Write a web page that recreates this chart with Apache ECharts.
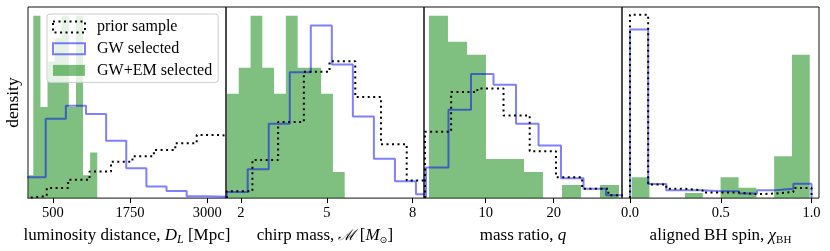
<!DOCTYPE html>
<html><head><meta charset="utf-8">
<script src="https://cdn.jsdelivr.net/npm/echarts@6/dist/echarts.min.js"></script>
<style>html,body{margin:0;padding:0;background:#fff}#c{width:830px;height:251px}</style>
</head><body><div id="c"></div>
<script>
// ---- data (relative density heights) ----
// Panel 1: luminosity distance D_L [Mpc]
const dlTicks = [500, 1750, 3000];
const dlPriorEdges = [54, 401, 748, 1095, 1442, 1789, 2136, 2483, 2830, 3177, 3524];
const dlPrior = [2, 10.3, 18.7, 27.3, 37.3, 43, 49.3, 56.3, 64.7, 63];
const dlGWEdges = [59, 385, 711, 1037, 1363, 1689, 2015, 2341, 2667, 2993, 3319];
const dlGW = [21.3, 81.3, 94.7, 86.3, 58.7, 30.7, 12, 7.3, 2, 1.3];
const dlEMEdges = [69, 184, 299, 414, 529, 644, 759, 874, 989, 1104, 1219];
const dlEM = [23.4, 187, 93.5, 140, 164, 187, 93.5, 187, 23.4, 46.8];

// Panel 2: chirp mass [Msun]
const mcTicks = [2, 5, 8];
const mcPriorEdges = [1.507, 2.405, 3.302, 4.200, 5.097, 5.995, 6.892, 7.790, 8.687];
const mcPrior = [7, 39, 78, 129.5, 140.3, 103.7, 55.3, 18];
const mcGWEdges = [1.507, 2.241, 2.975, 3.709, 4.443, 5.177, 5.911, 6.645, 7.379, 8.113, 8.847];
const mcGW = [6.3, 29.5, 76.3, 129, 177, 137, 83.7, 40.3, 17.3, 4];
const mcEMEdges = [1.518, 1.929, 2.340, 2.750, 3.161, 3.572, 3.983, 4.394, 4.804, 5.215, 5.626];
const mcEM = [106.9, 133.6, 187, 133.6, 106.9, 187, 133.6, 133.6, 106.9, 26.7];

// Panel 3: mass ratio q
const qTicks = [10, 20];
const qPriorEdges = [1.07, 4.92, 8.77, 12.62, 16.47, 20.33, 24.18, 28.03, 31.88];
const qPrior = [68, 108.7, 112.3, 84.7, 48, 21.3, 9.7, 3];
const qGWEdges = [1.22, 4.53, 7.84, 11.15, 14.46, 17.77, 21.07, 24.38, 27.69, 31.0];
const qGW = [31.3, 90.7, 127.3, 116.3, 76.3, 54, 20.3, 9.7, 3];
const qEMEdges = [1.66, 4.45, 7.25, 10.04, 12.84, 15.63, 18.42, 21.22, 24.01, 26.81, 29.6];
const qEM = [187, 160.3, 147, 40.1, 40.1, 26.7, 0, 13.4, 0, 13.4];

// Panel 4: aligned BH spin
const chiTicks = [0, 0.5, 1.0];
const chiEdges = [0, 0.1, 0.2, 0.3, 0.4, 0.5, 0.6, 0.7, 0.8, 0.9, 1.0];
const chiPrior = [188, 14, 9.7, 8, 5.7, 5.7, 4, 4.7, 6.3, 10.3];
const chiGW = [173, 14.5, 8, 8, 7, 7, 4.7, 8, 9.7, 14.7];
const chiEMEdges = [0.009, 0.107, 0.205, 0.303, 0.401, 0.499, 0.598, 0.696, 0.794, 0.892, 0.99];
const chiEM = [21.3, 0, 0, 5.3, 0, 21.3, 10.7, 0, 43, 147];

const names = ['prior sample', 'GW selected', 'GW+EM selected'];

// ---- layout / style ----
const F = 'Liberation Serif';
const panels = [
  {left: 28, width: 198, min: 98, max: 3304, ticks: dlTicks, fmt: v => String(v),
   name: 'luminosity distance, {it|D}{sub|L} [Mpc]',
   h: [[dlPriorEdges, dlPrior], [dlGWEdges, dlGW], [dlEMEdges, dlEM]]},
  {left: 226, width: 198, min: 1.483, max: 8.394, ticks: mcTicks, fmt: v => String(v),
   name: 'chirp mass, {sc|ℳ} [{it|M}{subs|⊙}]',
   h: [[mcPriorEdges, mcPrior], [mcGWEdges, mcGW], [mcEMEdges, mcEM]]},
  {left: 424, width: 198, min: 0.93, max: 30.04, ticks: qTicks, fmt: v => String(v),
   name: 'mass ratio, {it|q}',
   h: [[qPriorEdges, qPrior], [qGWEdges, qGW], [qEMEdges, qEM]]},
  {left: 622, width: 197, min: -0.044, max: 1.041, ticks: chiTicks, fmt: v => v.toFixed(1),
   name: 'aligned BH spin, {it|χ}{subr|BH}',
   h: [[chiEdges, chiPrior], [chiEdges, chiGW], [chiEMEdges, chiEM]]}
];

const nameStyle = {
  fontFamily: F, fontSize: 17, color: '#000', lineHeight: 20,
  rich: {
    it: {fontFamily: F, fontStyle: 'italic', fontSize: 17, lineHeight: 20, color: '#000'},
    sc: {fontFamily: 'DejaVu Serif', fontStyle: 'italic', fontSize: 15, lineHeight: 20, color: '#000'},
    sub: {fontFamily: F, fontStyle: 'italic', fontSize: 12, lineHeight: 12, verticalAlign: 'bottom', color: '#000'},
    subs: {fontFamily: 'DejaVu Sans', fontSize: 9.5, lineHeight: 10, verticalAlign: 'bottom', color: '#000'},
    subr: {fontFamily: F, fontSize: 11, lineHeight: 12, verticalAlign: 'bottom', color: '#000'}
  }
};

function histPoints(edges, h) {
  const pts = [[edges[0], 0]];
  h.forEach((v, i) => pts.push([edges[i], v]));
  pts.push([edges[h.length], 0]);
  return pts;
}

const grid = [], xAxis = [], yAxis = [], series = [];
panels.forEach((p, i) => {
  grid.push({left: p.left, top: 7, width: p.width, height: 196, show: true,
             borderColor: '#111', borderWidth: 1, backgroundColor: 'transparent'});
  xAxis.push({
    type: 'value', gridIndex: i, min: p.min, max: p.max,
    axisLine: {show: false}, splitLine: {show: false},
    axisTick: {show: true, length: 5, lineStyle: {color: '#000', width: 1}, customValues: p.ticks},
    axisLabel: {customValues: p.ticks, formatter: p.fmt, fontFamily: F, fontSize: 14.5, color: '#000', margin: 8},
    name: p.name, nameLocation: 'middle', nameGap: 23, nameTextStyle: nameStyle
  });
  yAxis.push({
    type: 'value', gridIndex: i, min: 0, max: 196,
    axisLine: {show: false}, axisTick: {show: false}, axisLabel: {show: false}, splitLine: {show: false},
    name: i === 0 ? 'density' : '', nameLocation: 'middle', nameGap: 6,
    nameTextStyle: {fontFamily: F, fontSize: 17.5, color: '#000'}
  });
  // GW+EM (filled), GW (blue step), prior (dotted step)
  const [pr, gw, em] = p.h;
  series.push({
    type: 'line', name: names[2], xAxisIndex: i, yAxisIndex: i, data: histPoints(em[0], em[1]),
    step: 'end', symbol: 'none', silent: true, z: 1,
    lineStyle: {width: 0, opacity: 0}, itemStyle: {color: 'rgba(0,128,0,0.5)'},
    areaStyle: {color: 'rgba(0,128,0,0.5)', opacity: 1}
  });
  series.push({
    type: 'line', name: names[1], xAxisIndex: i, yAxisIndex: i, data: histPoints(gw[0], gw[1]),
    step: 'end', symbol: 'none', silent: true, z: 2,
    lineStyle: {color: 'rgba(0,0,255,0.5)', width: 2}, itemStyle: {color: 'rgba(0,0,255,0.5)'}
  });
  series.push({
    type: 'line', name: names[0], xAxisIndex: i, yAxisIndex: i, data: histPoints(pr[0], pr[1]),
    step: 'end', symbol: 'none', silent: true, z: 3,
    lineStyle: {color: '#000', width: 2, type: [2, 3.5]}, itemStyle: {color: '#000'}
  });
});

const chart = echarts.init(document.getElementById('c'), null, {renderer: 'canvas'});
chart.setOption({
  animation: false,
  backgroundColor: '#fff',
  grid, xAxis, yAxis, series,
  legend: {
    orient: 'vertical', left: 47, top: 14, padding: [5, 6, 4, 5],
    itemWidth: 32, itemHeight: 11, itemGap: 5.7,
    backgroundColor: 'rgba(255,255,255,0.8)', borderColor: '#cccccc', borderWidth: 1, borderRadius: 3,
    textStyle: {fontFamily: F, fontSize: 16, lineHeight: 16, color: '#000', padding: [0, 0, 0, 7]},
    data: [
      {name: names[0], icon: 'rect', itemStyle: {color: 'rgba(0,0,0,0)', borderColor: '#000', borderWidth: 2, borderType: [2, 3.5]}},
      {name: names[1], icon: 'rect', itemStyle: {color: 'rgba(0,0,0,0)', borderColor: 'rgba(0,0,255,0.5)', borderWidth: 2}},
      {name: names[2], icon: 'rect', itemStyle: {color: 'rgba(0,128,0,0.5)', borderWidth: 0}}
    ]
  }
});
</script></body></html>
